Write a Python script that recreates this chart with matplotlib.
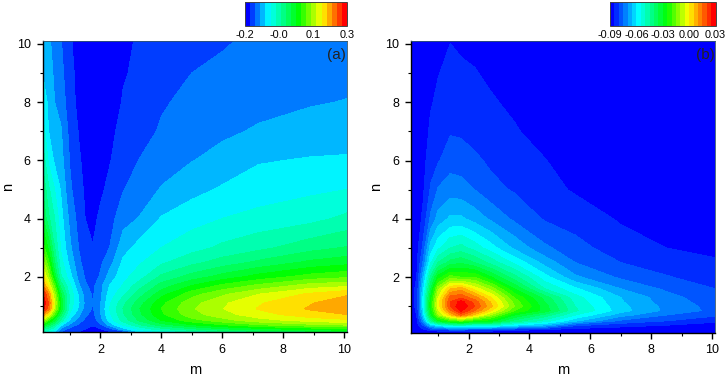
import numpy as np
import matplotlib
matplotlib.use('Agg')
import matplotlib.pyplot as plt
from matplotlib.colors import LinearSegmentedColormap, BoundaryNorm
from matplotlib.ticker import MultipleLocator

plt.rcParams['font.family'] = ['Liberation Sans', 'DejaVu Sans']

# panel (a), values, one list per m column
n_a = [0.1, 0.2, 0.35, 0.5, 0.7, 0.9, 1.1, 1.4, 1.7, 2, 2.5, 3, 4, 5, 6, 7, 8, 9, 10.1]
m_a = [0.1, 0.3, 0.5, 0.7, 1, 1.3, 1.5, 1.75, 2, 2.3, 2.75, 3.3, 4, 5, 6, 7.2, 8.9, 10.1]
a_01 = [-.05, -.02, .06, .14, .22, .29, .298, .28, .23, .19, .14, .09, .03, 0, -.03, -.06, -.085, -.1, -.11]
a_03 = [-.07, -.04, .02, .08, .17, .24, .25, .225, .17, .13, .08, .045, -.02, -.045, -.08, -.1, -.105, -.113, -.12]
a_05 = [-.1, -.07, -.02, .03, .09, .14, .15, .13, .09, .04, 0, -.025, -.05, -.075, -.105, -.118, -.125, -.13, -.135]
a_07 = [-.15, -.13, -.09, -.03, .01, .045, .05, .03, -.01, -.045, -.065, -.078, -.09, -.102, -.115, -.122, -.135, -.142, -.148]
a_10 = [-.175, -.16, -.13, -.105, -.08, -.065, -.06, -.058, -.07, -.09, -.108, -.12, -.132, -.145, -.152, -.158, -.165, -.168, -.172]
a_13 = [-.176, -.17, -.155, -.138, -.12, -.105, -.1, -.105, -.122, -.135, -.145, -.152, -.16, -.168, -.172, -.177, -.182, -.183, -.185]
a_15 = [-.18, -.175, -.165, -.155, -.145, -.135, -.13, -.135, -.147, -.152, -.16, -.165, -.175, -.178, -.182, -.187, -.193, -.194, -.195]
a_175 = [-.19, -.183, -.172, -.165, -.158, -.153, -.15, -.153, -.157, -.162, -.168, -.174, -.182, -.188, -.192, -.194, -.196, -.197, -.198]
a_20 = [-.185, -.178, -.155, -.135, -.128, -.125, -.127, -.132, -.133, -.147, -.155, -.16, -.17, -.18, -.185, -.19, -.193, -.195, -.196]
a_23 = [-.178, -.16, -.115, -.09, -.08, -.075, -.08, -.09, -.1, -.115, -.135, -.15, -.16, -.168, -.177, -.183, -.188, -.19, -.192]
a_275 = [-.165, -.11, -.07, -.04, -.028, -.024, -.032, -.055, -.073, -.083, -.095, -.11, -.135, -.151, -.16, -.165, -.173, -.177, -.18]
a_33 = [-.1, -.07, -.025, .005, .02, .025, .015, -.01, -.035, -.06, -.078, -.09, -.123, -.14, -.149, -.16, -.166, -.17, -.172]
a_40 = [-.075, -.035, .015, .05, .07, .075, .068, .04, .01, -.02, -.055, -.075, -.098, -.123, -.138, -.147, -.153, -.159, -.163]
a_50 = [-.05, -.005, .05, .09, .115, .122, .115, .09, .05, .01, -.033, -.06, -.085, -.108, -.126, -.134, -.143, -.15, -.158]
a_60 = [-.03, .02, .075, .115, .14, .149, .145, .12, .08, .035, -.015, -.045, -.075, -.097, -.116, -.13, -.14, -.146, -.152]
a_72 = [-.01, .04, .1, .14, .165, .177, .172, .15, .105, .06, .005, -.032, -.067, -.088, -.102, -.122, -.133, -.14, -.146]
a_89 = [.01, .06, .12, .16, .19, .203, .198, .18, .135, .085, .03, -.01, -.058, -.08, -.098, -.115, -.127, -.135, -.143]
a_101 = [.02, .07, .13, .17, .2, .218, .215, .197, .143, .095, .04, .002, -.044, -.075, -.097, -.112, -.124, -.132, -.14]

# panel (b)
n_b = [0.1, 0.2, 0.35, 0.5, 0.7, 0.85, 1, 1.15, 1.3, 1.6, 2, 2.5, 3, 4, 5, 6, 7, 8, 10.1]
m_b = [0.1, 0.3, 0.5, 0.75, 1, 1.4, 1.75, 2.2, 2.75, 3.5, 4.5, 5.5, 7, 8.5, 10.1]
b_01 = [-.09, -.089, -.088, -.088, -.087, -.087, -.087, -.087, -.087, -.087, -.088, -.088, -.089, -.089, -.09, -.09, -.09, -.09, -.09]
b_03 = [-.09, -.089, -.087, -.086, -.085, -.0845, -.084, -.084, -.084, -.084, -.085, -.086, -.087, -.088, -.089, -.09, -.09, -.09, -.09]
b_05 = [-.09, -.086, -.08, -.072, -.065, -.062, -.06, -.06, -.06, -.063, -.068, -.075, -.079, -.084, -.086, -.087, -.088, -.089, -.09]
b_075 = [-.09, -.082, -.065, -.045, -.033, -.029, -.027, -.028, -.03, -.036, -.044, -.056, -.063, -.074, -.0795, -.082, -.084, -.0855, -.087]
b_10 = [-.09, -.08, -.058, -.03, -.012, -.006, -.003, -.003, -.005, -.012, -.028, -.045, -.056, -.068, -.0745, -.0805, -.0825, -.084, -.0865]
b_14 = [-.09, -.078, -.052, -.022, .004, .014, .02, .02, .017, .005, -.018, -.038, -.05, -.064, -.0725, -.077, -.0805, -.0825, -.0851]
b_175 = [-.09, -.078, -.05, -.018, .016, .026, .0295, .027, .019, .008, -.02, -.036, -.048, -.064, -.073, -.0775, -.0808, -.083, -.0857]
b_22 = [-.09, -.079, -.054, -.025, .003, .015, .02, .018, .012, -.002, -.02, -.04, -.052, -.067, -.075, -.079, -.082, -.083, -.0865]
b_275 = [-.09, -.08, -.052, -.028, -.012, 0, .006, .004, 0, -.012, -.03, -.047, -.058, -.071, -.0785, -.081, -.0825, -.0845, -.0875]
b_35 = [-.09, -.083, -.06, -.042, -.03, -.02, -.015, -.017, -.02, -.03, -.043, -.056, -.066, -.076, -.0805, -.0825, -.0845, -.086, -.0885]
b_45 = [-.09, -.085, -.066, -.052, -.042, -.032, -.033, -.035, -.037, -.05, -.058, -.067, -.074, -.0805, -.0835, -.0848, -.087, -.088, -.09]
b_55 = [-.09, -.087, -.079, -.064, -.055, -.049, -.05, -.0515, -.053, -.059, -.069, -.075, -.078, -.0825, -.0855, -.0875, -.088, -.089, -.09]
b_70 = [-.09, -.088, -.083, -.076, -.068, -.063, -.0635, -.0645, -.065, -.07, -.076, -.08, -.083, -.0855, -.087, -.088, -.089, -.09, -.09]
b_85 = [-.09, -.089, -.085, -.08, -.075, -.0712, -.0715, -.0725, -.073, -.076, -.0797, -.082, -.085, -.087, -.088, -.089, -.09, -.09, -.09]
b_101 = [-.09, -.09, -.087, -.084, -.079, -.0765, -.077, -.0775, -.0785, -.08, -.082, -.0845, -.086, -.088, -.089, -.09, -.09, -.09, -.09]

z_a = np.column_stack([a_01, a_03, a_05, a_07, a_10, a_13, a_15, a_175, a_20, a_23, a_275, a_33, a_40, a_50, a_60, a_72, a_89, a_101])
z_b = np.column_stack([b_01, b_03, b_05, b_075, b_10, b_14, b_175, b_22, b_275, b_35, b_45, b_55, b_70, b_85, b_101])

levels_a = np.linspace(-0.2, 0.3, 21)
levels_b = np.linspace(-0.09, 0.03, 25)
cbar_ticks_a = [-0.2, -0.0333, 0.1333, 0.3]
cbar_labels_a = ['-0.2', '-0.0', '0.1', '0.3']
cbar_ticks_b = [-0.09, -0.06, -0.03, 0.0, 0.03]
cbar_labels_b = ['-0.09', '-0.06', '-0.03', '0.00', '0.03']


def rainbow(cyan, green, yellow, bands):
    return LinearSegmentedColormap.from_list('r', [(0, '#0000ff'), (cyan, '#00ffff'), (green, '#00ff00'),
                                                   (yellow, '#ffff00'), (1, '#ff0000')], N=bands)


W, H = 726, 377
fig = plt.figure(figsize=(W / 100, H / 100), dpi=100)


def panel(box, cbox, m, n, z, levels, cmap, ticks, labels, tag):
    ax = fig.add_axes([box[0] / W, 1 - box[3] / H, (box[1] - box[0]) / W, (box[3] - box[2]) / H])
    norm = BoundaryNorm(levels, len(levels) - 1)
    cs = ax.contourf(m, n, z, levels=levels, cmap=cmap, norm=norm)
    ax.set_xlim(0.1, 10.1)
    ax.set_ylim(0.1, 10.1)
    ax.xaxis.set_major_locator(MultipleLocator(2))
    ax.xaxis.set_minor_locator(MultipleLocator(1))
    ax.yaxis.set_major_locator(MultipleLocator(2))
    ax.yaxis.set_minor_locator(MultipleLocator(1))
    ax.tick_params(which='major', length=4.5, width=1, labelsize=9, pad=4)
    ax.tick_params(which='minor', length=2.5, width=0.8)
    for s in ['top', 'right']:
        ax.spines[s].set_linewidth(0.6)
        ax.spines[s].set_color('#335566')
    for s in ['left', 'bottom']:
        ax.spines[s].set_linewidth(1)
    ax.set_xlabel('m', fontsize=10.5, va='center')
    ax.set_ylabel('n', fontsize=10.5, va='center')
    ax.xaxis.set_label_coords(0.5, -0.13)
    ax.yaxis.set_label_coords(-0.113, 0.5)
    ax.text(0.997, 0.975, tag, transform=ax.transAxes, ha='right', va='top', fontsize=11, color='#222222')

    cax = fig.add_axes([cbox[0] / W, 1 - cbox[3] / H, (cbox[1] - cbox[0]) / W, (cbox[3] - cbox[2]) / H])
    cb = fig.colorbar(cs, cax=cax, orientation='horizontal', ticks=ticks, spacing='proportional')
    cb.ax.set_xticklabels(labels)
    cb.ax.tick_params(length=0, labelsize=7.8, pad=3)
    cb.ax.minorticks_off()
    cb.outline.set_linewidth(0.7)
    cb.outline.set_edgecolor('#444444')


panel((42.5, 347, 41, 332), (245, 347, 2, 26), m_a, n_a, z_a, levels_a, rainbow(0.22, 0.53, 0.76, 20),
      cbar_ticks_a, cbar_labels_a, '(a)')
panel((410.7, 715.3, 41, 332.5), (610, 715.5, 2, 26), m_b, n_b, z_b, levels_b, rainbow(0.26, 0.54, 0.75, 24),
      cbar_ticks_b, cbar_labels_b, '(b)')

fig.savefig('out.png', dpi=100)
